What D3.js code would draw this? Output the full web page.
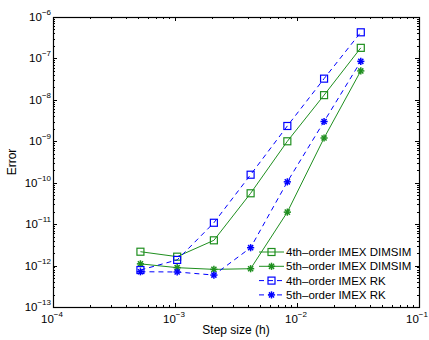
<!DOCTYPE html>
<html>
<head>
<meta charset="utf-8">
<script src="https://cdn.jsdelivr.net/npm/d3@7"></script>
<style>
  body { margin: 0; background: #fff; }
  text { font-family: "Liberation Sans", Arial, sans-serif; }
</style>
</head>
<body>
<div id="vis"></div>
<script>
//-- Data
var stepSizes = [5.208e-4, 1.0417e-3, 2.0833e-3, 4.1667e-3, 8.3333e-3, 1.6667e-2, 3.3333e-2];
var dimsim4 = [2.16e-12, 1.64e-12, 4.07e-12, 5.56e-11, 1.0e-9, 1.3e-8, 1.8e-7];
var dimsim5 = [1.1e-12, 8.9e-13, 8.1e-13, 8.4e-13, 1.95e-11, 1.2e-9, 5.0e-8];
var rk4 = [7.8e-13, 1.37e-12, 1.08e-11, 1.56e-10, 2.34e-9, 3.25e-8, 4.27e-7];
var rk5 = [7.1e-13, 7.0e-13, 5.9e-13, 2.7e-12, 1.05e-10, 3.0e-9, 8.5e-8];
var seriesNames = ["4th\u2013order IMEX DIMSIM", "5th\u2013order IMEX DIMSIM", "4th\u2013order IMEX RK", "5th\u2013order IMEX RK"];
var xTickExps = [-4, -3, -2, -1];
var yTickExps = [-13, -12, -11, -10, -9, -8, -7, -6];

//-- Setup
var width = 429;
var height = 340;
var margin = { left: 53, right: 10, top: 17, bottom: 33 };
var green = "#1f8f1f";
var blue = "#0000ff";

var svg = d3.select("#vis").append("svg")
  .attr("width", width)
  .attr("height", height);

var x = d3.scaleLog().domain([1e-4, 1e-1]).range([margin.left, width - margin.right]);
var y = d3.scaleLog().domain([1e-13, 1e-6]).range([height - margin.bottom, margin.top]);

var series = [
  { name: seriesNames[0], values: dimsim4, color: green, marker: "square", dash: null },
  { name: seriesNames[1], values: dimsim5, color: green, marker: "star", dash: null },
  { name: seriesNames[2], values: rk4, color: blue, marker: "square", dash: "5,4" },
  { name: seriesNames[3], values: rk5, color: blue, marker: "star", dash: "5,4" }
];

// minor tick values
function minorTicks(lo, hi) {
  var out = [];
  for (var e = lo; e < hi; e++) {
    for (var m = 2; m <= 9; m++) out.push(m * Math.pow(10, e));
  }
  return out;
}
var xMinor = minorTicks(-4, -1);
var yMinor = minorTicks(-13, -6);

var x0 = x.range()[0], x1 = x.range()[1];
var y0 = y.range()[0], y1 = y.range()[1];

var axes = svg.append("g").attr("stroke", "#000").attr("stroke-width", 1);

// x ticks bottom and top (inward)
xTickExps.forEach(function (e) {
  var px = Math.round(x(Math.pow(10, e))) + 0.5;
  axes.append("line").attr("x1", px).attr("x2", px).attr("y1", y0).attr("y2", y0 - 4);
  axes.append("line").attr("x1", px).attr("x2", px).attr("y1", y1).attr("y2", y1 + 4);
});
xMinor.forEach(function (v) {
  var px = Math.round(x(v)) + 0.5;
  axes.append("line").attr("x1", px).attr("x2", px).attr("y1", y0).attr("y2", y0 - 2);
  axes.append("line").attr("x1", px).attr("x2", px).attr("y1", y1).attr("y2", y1 + 2);
});
// y ticks left and right (inward)
yTickExps.forEach(function (e) {
  var py = Math.round(y(Math.pow(10, e))) + 0.5;
  axes.append("line").attr("x1", x0).attr("x2", x0 + 4).attr("y1", py).attr("y2", py);
  axes.append("line").attr("x1", x1).attr("x2", x1 - 4).attr("y1", py).attr("y2", py);
});
yMinor.forEach(function (v) {
  var py = Math.round(y(v)) + 0.5;
  axes.append("line").attr("x1", x0).attr("x2", x0 + 2).attr("y1", py).attr("y2", py);
  axes.append("line").attr("x1", x1).attr("x2", x1 - 2).attr("y1", py).attr("y2", py);
});

// box
axes.append("rect")
  .attr("x", x0 + 0.5).attr("y", y1 + 0.5)
  .attr("width", x1 - x0).attr("height", y0 - y1)
  .attr("fill", "none").attr("stroke-width", 1.2);

// tick labels
function powLabel(g, px, py, e, anchor) {
  var t = g.append("text")
    .attr("x", px).attr("y", py)
    .attr("text-anchor", anchor)
    .attr("font-size", 11.5)
    .attr("fill", "#000");
  t.append("tspan").text("10");
  t.append("tspan").attr("font-size", 8).attr("dy", -6).text("\u2212" + Math.abs(e));
}
var labels = svg.append("g");
xTickExps.forEach(function (e) {
  var cx = Math.min(x(Math.pow(10, e)) - 1, width - 12);
  powLabel(labels, cx, y0 + 16, e, "middle");
});
yTickExps.forEach(function (e) {
  powLabel(labels, x0 - 2, y(Math.pow(10, e)) + 4, e, "end");
});

// axis titles
svg.append("text")
  .attr("x", (x0 + x1) / 2).attr("y", 334)
  .attr("text-anchor", "middle").attr("font-size", 12)
  .text("Step size (h)");
svg.append("text")
  .attr("transform", "translate(16," + ((y0 + y1) / 2) + ") rotate(-90)")
  .attr("text-anchor", "middle").attr("font-size", 12)
  .text("Error");

// markers
function drawMarker(g, px, py, kind, color) {
  if (kind === "square") {
    g.append("rect")
      .attr("x", px - 3.5).attr("y", py - 3.5)
      .attr("width", 7).attr("height", 7)
      .attr("fill", "none").attr("stroke", color).attr("stroke-width", 1.2);
  } else {
    var r = 3.6;
    [0, 45, 90, 135].forEach(function (a) {
      var rad = a * Math.PI / 180;
      g.append("line")
        .attr("x1", px - r * Math.cos(rad)).attr("y1", py - r * Math.sin(rad))
        .attr("x2", px + r * Math.cos(rad)).attr("y2", py + r * Math.sin(rad))
        .attr("stroke", color).attr("stroke-width", 1.5);
    });
  }
}

var line = d3.line()
  .x(function (d) { return x(d[0]); })
  .y(function (d) { return y(d[1]); });

var plot = svg.append("g");
series.forEach(function (s) {
  var pts = stepSizes.map(function (h, i) { return [h, s.values[i]]; });
  plot.append("path")
    .attr("d", line(pts))
    .attr("fill", "none")
    .attr("stroke", s.color)
    .attr("stroke-width", 1)
    .attr("stroke-dasharray", s.dash);
  pts.forEach(function (p) {
    drawMarker(plot, x(p[0]), y(p[1]), s.marker, s.color);
  });
});

// legend (no box)
var legend = svg.append("g");
series.forEach(function (s, i) {
  var ly = 252 + i * 14.3;
  legend.append("line")
    .attr("x1", 259).attr("x2", 284).attr("y1", ly).attr("y2", ly)
    .attr("stroke", s.color).attr("stroke-width", 1)
    .attr("stroke-dasharray", s.dash ? "5,4" : null);
  drawMarker(legend, 271.5, ly, s.marker, s.color);
  legend.append("text")
    .attr("x", 286).attr("y", ly + 4)
    .attr("font-size", 11.5)
    .text(s.name);
});
</script>
</body>
</html>
